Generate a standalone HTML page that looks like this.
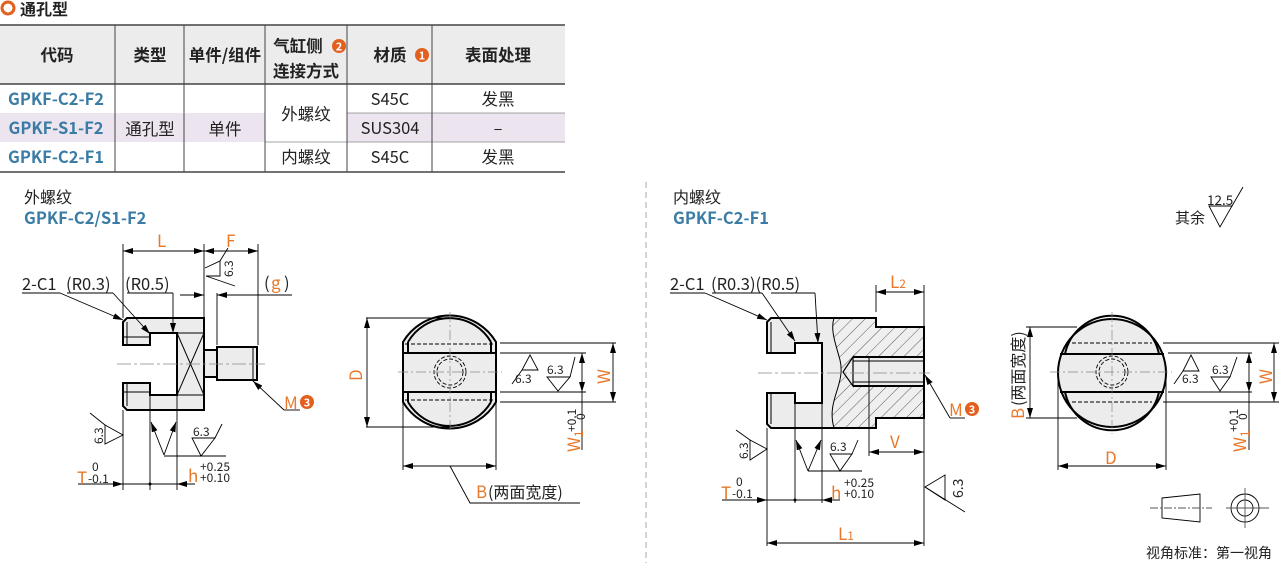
<!DOCTYPE html>
<html><head><meta charset="utf-8">
<style>
html,body{margin:0;padding:0;background:#fff;}
body{width:1279px;height:563px;overflow:hidden;position:relative;font-family:"Noto Sans CJK SC","Liberation Sans",sans-serif;}
svg{position:absolute;left:0;top:0;}
text{font-family:"Noto Sans CJK SC","Liberation Sans",sans-serif;}
</style></head><body>
<svg width="1279" height="563" viewBox="0 0 1279 563" xmlns="http://www.w3.org/2000/svg">
<defs>
<marker id="a" viewBox="0 0 10 6" refX="10" refY="3" markerWidth="10" markerHeight="6" markerUnits="userSpaceOnUse" orient="auto-start-reverse"><path d="M0,0L10,3L0,6z" fill="#000"/></marker>
<pattern id="h" width="9" height="9" patternUnits="userSpaceOnUse" patternTransform="rotate(45)"><rect width="9" height="9" fill="#efefef"/><line x1="0" y1="0" x2="0" y2="9" stroke="#333" stroke-width="0.8"/></pattern>
</defs>

<circle cx="8" cy="8" r="6" fill="none" stroke="#e35f1d" stroke-width="3"/>
<text x="20" y="15" font-size="16" font-weight="bold" fill="#222">通孔型</text>

<rect x="0" y="25" width="565" height="59" fill="#ececec"/>
<rect x="0" y="113" width="565" height="29" fill="#ece4ee"/>
<rect x="265" y="84" width="82" height="58" fill="#fff"/>
<line x1="0" y1="25" x2="565" y2="25" stroke="#444" stroke-width="1.5"/>
<line x1="0" y1="84" x2="565" y2="84" stroke="#444" stroke-width="1.5"/>
<line x1="0" y1="172" x2="565" y2="172" stroke="#444" stroke-width="1.5"/>
<g stroke="#888" stroke-width="0.8">
<line x1="347" y1="113" x2="565" y2="113"/><line x1="347" y1="142" x2="565" y2="142"/><line x1="265" y1="142" x2="347" y2="142"/>
</g>
<g stroke="#444" stroke-width="1">
<line x1="115" y1="25" x2="115" y2="172"/><line x1="184" y1="25" x2="184" y2="172"/><line x1="265" y1="25" x2="265" y2="172"/><line x1="347" y1="25" x2="347" y2="172"/><line x1="432" y1="25" x2="432" y2="172"/>
</g>
<g font-size="16.5" font-weight="bold" fill="#222" text-anchor="middle">
<text x="57" y="61">代码</text><text x="150" y="61">类型</text><text x="225" y="61">单件/组件</text>
<text x="298" y="52">气缸侧</text><text x="306" y="77">连接方式</text>
<text x="390" y="61">材质</text><text x="498" y="61">表面处理</text>
</g>
<circle cx="339" cy="46" r="7" fill="#e35f1d"/><text x="339" y="50.5" font-size="11" font-weight="bold" fill="#fff" text-anchor="middle">2</text>
<circle cx="422" cy="55" r="7" fill="#e35f1d"/><text x="422" y="59.5" font-size="11" font-weight="bold" fill="#fff" text-anchor="middle">1</text>
<g font-size="16.5" font-weight="bold" fill="#3a7ca5" text-anchor="middle">
<text x="56" y="105">GPKF-C2-F2</text><text x="56" y="134">GPKF-S1-F2</text><text x="56" y="163">GPKF-C2-F1</text>
</g>
<g font-size="16.5" fill="#222" text-anchor="middle">
<text x="150" y="135">通孔型</text><text x="225" y="135">单件</text><text x="306" y="120">外螺纹</text><text x="306" y="163">内螺纹</text>
<text x="390" y="105">S45C</text><text x="390" y="134">SUS304</text><text x="390" y="163">S45C</text>
<text x="498" y="105">发黑</text><text x="498" y="134">–</text><text x="498" y="163">发黑</text>
</g>

<line x1="646" y1="182" x2="646" y2="563" stroke="#aaa" stroke-dasharray="6,4"/>

<text x="24" y="203" font-size="16" fill="#222">外螺纹</text>
<text x="24" y="224" font-size="16.5" font-weight="bold" fill="#3a7ca5">GPKF-C2/S1-F2</text>

<g stroke="#000" stroke-width="2" fill="#ececec">
<path d="M127,318 H204 V410 H127 L123,406 V383 H150 V395 H177 V333 H150 V345 H123 V322 Z"/>
<rect x="204" y="350" width="13" height="27"/>
<rect x="217" y="347" width="40" height="33"/>
</g>
<g stroke="#000" stroke-width="1" fill="none">
<line x1="123" y1="337" x2="150" y2="337"/><line x1="127" y1="322" x2="127" y2="345"/>
<line x1="123" y1="392" x2="150" y2="392"/><line x1="127" y1="383" x2="127" y2="406"/>
<line x1="177" y1="333" x2="204" y2="333"/><line x1="177" y1="395" x2="204" y2="395"/>
<line x1="177" y1="333" x2="204" y2="395"/><line x1="204" y1="333" x2="177" y2="395"/>
<line x1="253" y1="347" x2="253" y2="380"/>
</g>
<line x1="117" y1="364" x2="265" y2="364" stroke="#888" stroke-width="0.8" stroke-dasharray="14,3,3,3"/>
<g stroke="#000" stroke-width="0.9" fill="none">
<line x1="123" y1="244" x2="123" y2="318"/><line x1="204" y1="244" x2="204" y2="318"/><line x1="258" y1="244" x2="258" y2="345"/>
<line x1="123" y1="251" x2="204" y2="251" marker-start="url(#a)" marker-end="url(#a)"/>
<line x1="204" y1="251" x2="258" y2="251" marker-start="url(#a)" marker-end="url(#a)"/>
<line x1="217" y1="293" x2="217" y2="345"/>
<line x1="180" y1="295" x2="204" y2="295" marker-end="url(#a)"/>
<line x1="292" y1="295" x2="217" y2="295" marker-end="url(#a)"/>
<line x1="22" y1="293" x2="60" y2="293"/><line x1="60" y1="293" x2="123" y2="320" marker-end="url(#a)"/>
<line x1="67" y1="293" x2="113" y2="293"/><line x1="113" y1="293" x2="150" y2="334" marker-end="url(#a)"/>
<line x1="127" y1="293" x2="173" y2="293"/><line x1="173" y1="293" x2="173" y2="333" marker-end="url(#a)"/>
<line x1="300" y1="410" x2="284" y2="410"/><line x1="284" y1="410" x2="253" y2="381" marker-end="url(#a)"/>
<path d="M205,268 L220,261 V276 H206"/><line x1="220" y1="261" x2="228" y2="248"/><line x1="206" y1="276" x2="235" y2="286"/>
<line x1="123" y1="410" x2="123" y2="490"/><line x1="150" y1="395" x2="150" y2="490"/><line x1="177" y1="395" x2="177" y2="490"/>
<line x1="78" y1="484" x2="123" y2="484" marker-end="url(#a)"/><line x1="123" y1="484" x2="177" y2="484"/>
<line x1="195" y1="484" x2="177" y2="484" marker-end="url(#a)"/>
<line x1="164" y1="455" x2="151" y2="422" marker-end="url(#a)"/><line x1="164" y1="455" x2="176" y2="422" marker-end="url(#a)"/>
<line x1="164" y1="456" x2="226" y2="456"/>
<path d="M192,438 H215 L201,456 Z"/><line x1="215" y1="438" x2="222" y2="424"/>
<path d="M123,435 L105,425 V444 Z"/><line x1="105" y1="425" x2="90" y2="413"/>
</g>
<circle cx="150" cy="484" r="1.5" fill="#000"/>
<g font-size="16.5" fill="#222">
<text x="22" y="290">2-C1</text><text x="66" y="290">(R0.3)</text><text x="125" y="290">(R0.5)</text>
<text x="264" y="289">(</text><text x="284" y="289">)</text>
</g>
<g font-size="17" fill="#e8792b">
<text x="157" y="247">L</text><text x="226" y="247">F</text><text x="271" y="289">g</text>
<text x="284" y="409">M</text><text x="77" y="484">T</text><text x="188" y="482">h</text>
</g>
<circle cx="307" cy="402" r="7" fill="#e35f1d"/><text x="307" y="406.5" font-size="11" font-weight="bold" fill="#fff" text-anchor="middle">3</text>
<g font-size="12" fill="#222">
<text x="92" y="471">0</text><text x="88" y="483">-0.1</text>
<text x="200" y="471">+0.25</text><text x="200" y="482">+0.10</text>
<text x="193" y="436">6.3</text>
<text transform="translate(233,277) rotate(-90)">6.3</text>
<text transform="translate(103,444) rotate(-90)">6.3</text>
</g>

<!-- middle view -->
<path d="M403,342 A54,54 0 0 1 496,342 V402 A54,54 0 0 1 403,402 Z" stroke="#000" stroke-width="2" fill="#ececec"/>
<g stroke="#000" stroke-width="2" fill="none">
<path d="M408,342 A48,48 0 0 1 491,342"/><path d="M408,402 A48,48 0 0 0 491,402"/>
<line x1="403" y1="353" x2="496" y2="353"/><line x1="403" y1="392" x2="496" y2="392"/>
<line x1="408" y1="342" x2="408" y2="353"/><line x1="491" y1="342" x2="491" y2="353"/>
<line x1="408" y1="392" x2="408" y2="402"/><line x1="491" y1="392" x2="491" y2="402"/>
</g>
<g stroke="#000" stroke-width="0.9" fill="none" stroke-dasharray="4,2">
<line x1="405" y1="344" x2="494" y2="344"/><line x1="405" y1="400" x2="494" y2="400"/>
<circle cx="450" cy="372" r="16"/><circle cx="450" cy="372" r="13"/>
</g>
<g stroke="#888" stroke-width="0.7" stroke-dasharray="10,3,2,3">
<line x1="398" y1="372" x2="502" y2="372"/><line x1="450" y1="312" x2="450" y2="432"/>
</g>
<g stroke="#000" stroke-width="0.9" fill="none">
<line x1="366" y1="318" x2="450" y2="318"/><line x1="366" y1="427" x2="450" y2="427"/>
<line x1="367" y1="318" x2="367" y2="427" marker-start="url(#a)" marker-end="url(#a)"/>
<line x1="500" y1="343" x2="616" y2="343"/><line x1="500" y1="402" x2="616" y2="402"/>
<line x1="613" y1="343" x2="613" y2="402" marker-start="url(#a)" marker-end="url(#a)"/>
<line x1="500" y1="353" x2="586" y2="353"/><line x1="500" y1="392" x2="586" y2="392"/>
<line x1="582" y1="353" x2="582" y2="392" marker-start="url(#a)" marker-end="url(#a)"/><line x1="582" y1="392" x2="582" y2="450"/>
<line x1="403" y1="402" x2="403" y2="470"/><line x1="496" y1="402" x2="496" y2="470"/>
<line x1="403" y1="466" x2="496" y2="466" marker-start="url(#a)" marker-end="url(#a)"/>
<polyline points="450,466 470,503 580,503"/>
<path d="M522,370 L530,355 L538,370 H522"/><line x1="512" y1="384" x2="522" y2="370"/>
<path d="M547,377 H570 L558,391 Z"/><line x1="570" y1="377" x2="575" y2="357"/>
</g>
<g font-size="12" fill="#222"><text x="515" y="383">6.3</text><text x="547" y="374">6.3</text>
<text transform="translate(576,432) rotate(-90)">+0.1</text><text transform="translate(585,420) rotate(-90)">0</text></g>
<g font-size="17" fill="#e8792b">
<text transform="translate(362,381) rotate(-90)">D</text>
<text transform="translate(610,384) rotate(-90)">W</text>
<text transform="translate(580,452) rotate(-90)">W<tspan font-size="12" dy="3">1</tspan></text>
<text x="476" y="498">B</text>
</g>
<text x="488" y="498" font-size="16" fill="#222">(两面宽度)</text>

<text x="673" y="203" font-size="16" fill="#222">内螺纹</text>
<text x="673" y="224" font-size="16.5" font-weight="bold" fill="#3a7ca5">GPKF-C2-F1</text>

<path d="M834,318 H876 V327 H924 V418 H876 V428 H834 C826,400 846,385 840,360 C836,345 830,330 834,318 Z" fill="url(#h)"/>
<rect x="853" y="357" width="71" height="29" fill="#ececec"/>
<path d="M853,357 L843,372 L853,386 Z" fill="#ececec" stroke="#000" stroke-width="1.2"/>
<path d="M771,318 H834 C830,330 836,345 840,360 C846,385 826,400 834,428 H771 L767,424 V393 H795 V403 H822 V343 H795 V353 H767 V322 Z" fill="#ececec"/>
<g stroke="#000" stroke-width="2" fill="none">
<path d="M771,318 H876 V327 H924 V418 H876 V428 H771 L767,424 V393 H795 V403 H822 V343 H795 V353 H767 V322 Z"/>
<line x1="853" y1="357" x2="924" y2="357"/><line x1="853" y1="386" x2="924" y2="386"/>
</g>
<g stroke="#000" stroke-width="1" fill="none">
<line x1="853" y1="361" x2="924" y2="361"/><line x1="853" y1="382" x2="924" y2="382"/><line x1="869" y1="357" x2="869" y2="386"/>
<path d="M834,318 C830,330 836,345 840,360 C846,385 826,400 834,428"/>
<line x1="771" y1="322" x2="771" y2="353"/><line x1="771" y1="393" x2="771" y2="424"/>
</g>
<line x1="758" y1="373" x2="930" y2="373" stroke="#888" stroke-width="0.8" stroke-dasharray="14,3,3,3"/>
<g stroke="#000" stroke-width="0.9" fill="none">
<line x1="876" y1="285" x2="876" y2="312"/><line x1="924" y1="285" x2="924" y2="327"/>
<line x1="876" y1="292" x2="924" y2="292" marker-start="url(#a)" marker-end="url(#a)"/>
<line x1="670" y1="293" x2="705" y2="293"/><line x1="705" y1="293" x2="767" y2="320" marker-end="url(#a)"/>
<line x1="712" y1="293" x2="762" y2="293"/><line x1="762" y1="293" x2="795" y2="341" marker-end="url(#a)"/>
<line x1="771" y1="293" x2="815" y2="293"/><line x1="815" y1="293" x2="818" y2="343" marker-end="url(#a)"/>
<line x1="965" y1="418" x2="950" y2="418"/><line x1="950" y1="418" x2="925" y2="375" marker-end="url(#a)"/>
<line x1="869" y1="386" x2="869" y2="456"/>
<line x1="869" y1="452" x2="924" y2="452" marker-start="url(#a)" marker-end="url(#a)"/>
<line x1="767" y1="428" x2="767" y2="546"/><line x1="924" y1="418" x2="924" y2="546"/>
<line x1="795" y1="403" x2="795" y2="503"/><line x1="822" y1="403" x2="822" y2="503"/>
<line x1="722" y1="500" x2="767" y2="500" marker-end="url(#a)"/><line x1="767" y1="500" x2="822" y2="500"/>
<line x1="840" y1="500" x2="822" y2="500" marker-end="url(#a)"/>
<line x1="767" y1="543" x2="924" y2="543" marker-start="url(#a)" marker-end="url(#a)"/>
<line x1="808" y1="471" x2="796" y2="440" marker-end="url(#a)"/><line x1="808" y1="471" x2="821" y2="440" marker-end="url(#a)"/>
<line x1="808" y1="471" x2="862" y2="471"/>
<path d="M830,454 H852 L840,471 Z"/><line x1="852" y1="454" x2="858" y2="440"/>
<path d="M767,449 L750,440 V460 Z"/><line x1="750" y1="440" x2="736" y2="430"/>
<path d="M925,487 L945,475 V500 Z"/><line x1="925" y1="487" x2="965" y2="512"/>
</g>
<circle cx="795" cy="500" r="1.5" fill="#000"/>
<g font-size="16.5" fill="#222">
<text x="670" y="290">2-C1</text><text x="711" y="290">(R0.3)(R0.5)</text>
</g>
<g font-size="17" fill="#e8792b">
<text x="890" y="288">L<tspan font-size="12">2</tspan></text>
<text x="949" y="416">M</text><text x="890" y="448">V</text>
<text x="721" y="499">T</text><text x="831" y="499">h</text>
<text x="838" y="540">L<tspan font-size="12">1</tspan></text>
</g>
<circle cx="972" cy="409" r="7" fill="#e35f1d"/><text x="972" y="413.5" font-size="11" font-weight="bold" fill="#fff" text-anchor="middle">3</text>
<g font-size="12" fill="#222">
<text x="736" y="486">0</text><text x="732" y="498">-0.1</text>
<text x="844" y="487">+0.25</text><text x="844" y="498">+0.10</text>
<text x="830" y="451">6.3</text>
<text transform="translate(748,459) rotate(-90)">6.3</text>
</g>
<text transform="translate(963,498) rotate(-90)" font-size="14" fill="#222">6.3</text>

<!-- right view -->
<circle cx="1112" cy="373" r="54" fill="#ececec" stroke="#000" stroke-width="2"/>
<g stroke="#000" stroke-width="2" fill="none">
<path d="M1065,354 A48,48 0 0 1 1159,354"/><path d="M1065,392 A48,48 0 0 0 1159,392"/>
<line x1="1060" y1="354" x2="1164" y2="354"/><line x1="1060" y1="392" x2="1164" y2="392"/>
</g>
<g stroke="#000" stroke-width="0.9" fill="none" stroke-dasharray="4,2">
<line x1="1072" y1="343" x2="1152" y2="343"/><line x1="1072" y1="402" x2="1152" y2="402"/>
<circle cx="1112" cy="372" r="16"/><circle cx="1112" cy="372" r="13"/>
</g>
<g stroke="#888" stroke-width="0.7" stroke-dasharray="10,3,2,3">
<line x1="1050" y1="372" x2="1172" y2="372"/><line x1="1112" y1="312" x2="1112" y2="434"/>
</g>
<g stroke="#000" stroke-width="0.9" fill="none">
<line x1="1026" y1="327" x2="1077" y2="327"/><line x1="1026" y1="418" x2="1077" y2="418"/>
<line x1="1030" y1="327" x2="1030" y2="418" marker-start="url(#a)" marker-end="url(#a)"/>
<line x1="1058" y1="373" x2="1058" y2="470"/><line x1="1166" y1="373" x2="1166" y2="470"/>
<line x1="1058" y1="466" x2="1166" y2="466" marker-start="url(#a)" marker-end="url(#a)"/>
<line x1="1163" y1="343" x2="1279" y2="343"/><line x1="1163" y1="402" x2="1279" y2="402"/>
<line x1="1274" y1="343" x2="1274" y2="402" marker-start="url(#a)" marker-end="url(#a)"/>
<line x1="1168" y1="353" x2="1252" y2="353"/><line x1="1168" y1="392" x2="1252" y2="392"/>
<line x1="1249" y1="353" x2="1249" y2="392" marker-start="url(#a)" marker-end="url(#a)"/><line x1="1249" y1="392" x2="1249" y2="450"/>
<path d="M1183,371 L1191,355 L1199,371 H1183"/><line x1="1174" y1="384" x2="1183" y2="371"/>
<path d="M1211,377 H1230 L1220,391 Z"/><line x1="1230" y1="377" x2="1237" y2="357"/>
<path d="M1209,206 H1232 L1220,227 Z"/><line x1="1232" y1="206" x2="1243" y2="187"/>
<path d="M1162,498 L1200,494 V522 L1162,518 Z"/>
<line x1="1150" y1="508" x2="1212" y2="508" stroke-dasharray="8,2,2,2" stroke="#555"/>
<circle cx="1245" cy="508" r="14"/><circle cx="1245" cy="508" r="8"/>
<line x1="1226" y1="508" x2="1269" y2="508" stroke="#555"/><line x1="1245" y1="488" x2="1245" y2="528" stroke="#555"/>
</g>
<g font-size="12" fill="#222"><text x="1182" y="383">6.3</text><text x="1212" y="374">6.3</text>
<text transform="translate(1238,432) rotate(-90)">+0.1</text><text transform="translate(1247,420) rotate(-90)">0</text></g>
<g font-size="17" fill="#e8792b">
<text transform="translate(1024,419) rotate(-90)">B</text>
<text x="1105" y="464">D</text>
<text transform="translate(1272,384) rotate(-90)">W</text>
<text transform="translate(1246,452) rotate(-90)">W<tspan font-size="12" dy="3">1</tspan></text>
</g>
<text transform="translate(1024,406) rotate(-90)" font-size="16" fill="#222">(两面宽度)</text>
<text x="1207" y="205" font-size="13.5" fill="#222">12.5</text>
<text x="1175" y="223" font-size="15" fill="#222">其余</text>
<text x="1146" y="558" font-size="14" fill="#222">视角标准：第一视角</text>
</svg>
</body></html>
